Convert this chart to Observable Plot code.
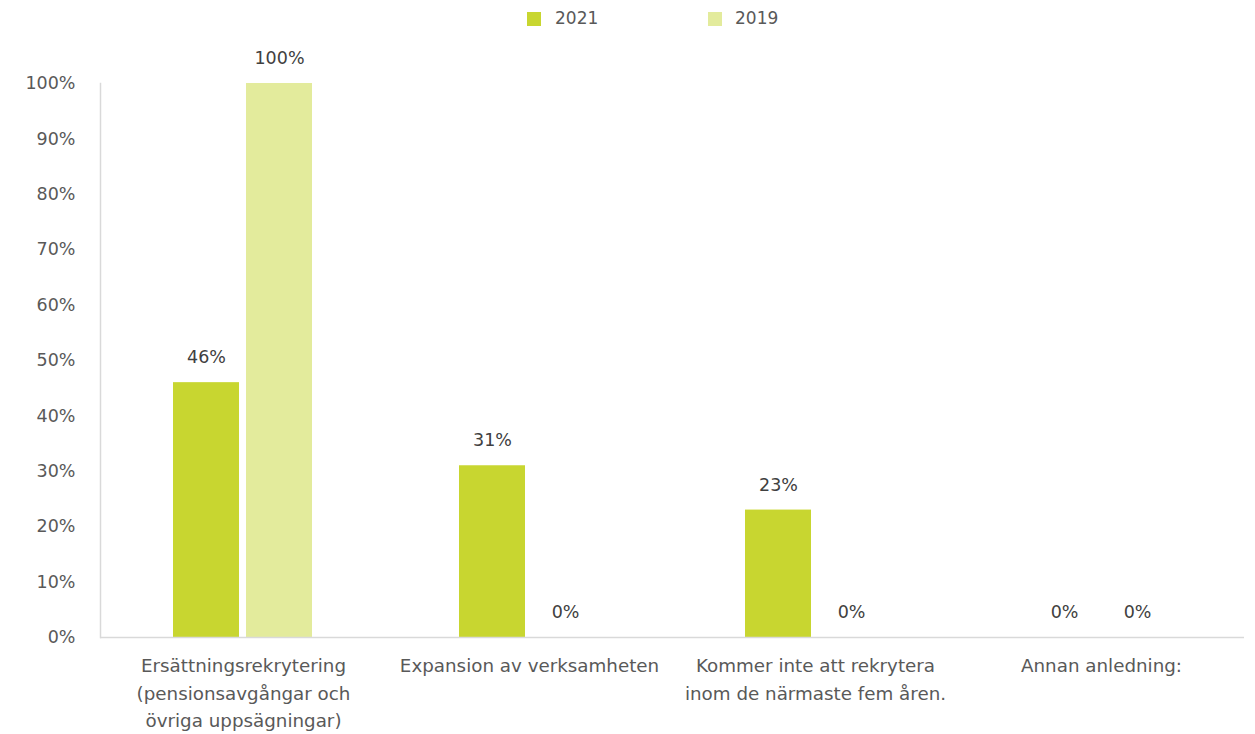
<!DOCTYPE html>
<html><head><meta charset="utf-8">
<script src="https://cdn.jsdelivr.net/npm/d3@7"></script>
<script src="https://cdn.jsdelivr.net/npm/@observablehq/plot@0.6"></script>
<style>
body{margin:0;background:#fff;font-family:"DejaVu Sans",sans-serif;color:#595959}
#legend{position:relative;height:38px;width:1255px}
.sw{position:absolute;top:12px;width:14px;height:14px}
.lt{position:absolute;top:8px;font-size:17px;color:#595959}
</style></head><body>
<div id="legend"></div>
<div id="chart"></div>
<script>
const categories = ["Ersättningsrekrytering\n(pensionsavgångar och\növriga uppsägningar)", "Expansion av verksamheten", "Kommer inte att rekrytera\ninom de närmaste fem åren.", "Annan anledning:"];
const years = ["2021", "2019"];
const values2021 = [0.46, 0.31, 0.23, 0];
const values2019 = [1.00, 0, 0, 0];
const colors = ["#C8D630", "#E3EB9C"];
const yTicks = [0,0.1,0.2,0.3,0.4,0.5,0.6,0.7,0.8,0.9,1.0];

const data = [];
categories.forEach((c,i)=>{
  data.push({cat:c, year:years[0], v:values2021[i]});
  data.push({cat:c, year:years[1], v:values2019[i]});
});

const lg = document.getElementById("legend");
lg.innerHTML = `<div class="sw" style="left:527px;background:${colors[0]}"></div><div class="lt" style="left:555px">${years[0]}</div>
<div class="sw" style="left:708px;background:${colors[1]}"></div><div class="lt" style="left:735px">${years[1]}</div>`;

const fmt = d3.format(".0%");
const plot = Plot.plot({
  width: 1255,
  height: 696,
  marginLeft: 99,
  marginRight: 10,
  marginTop: 45,
  marginBottom: 97,
  style: {fontFamily: '"DejaVu Sans", sans-serif', fontSize: "17px", color: "#595959", background: "#fff"},
  fx: {domain: categories, padding: 0, label: null, axis: null},
  x: {domain: years, paddingInner: 0.095, paddingOuter: 0.98, axis: null},
  y: {domain: [0, 1], label: null, axis: null},
  color: {domain: years, range: colors},
  marks: [
    Plot.barY(data, {fx: "cat", x: "year", y: "v", fill: "year"}),
    Plot.text(data, {fx: "cat", x: "year", y: "v", text: d => fmt(d.v), dy: -25, fill: "#404040", fontSize: 17.5}),
    Plot.ruleY([0], {stroke: "#d9d9d9", strokeWidth: 1.5}),
    Plot.frame({anchor: "left", facet: "super", stroke: "#d9d9d9", strokeWidth: 1.5}),
    Plot.axisY({ticks: yTicks, tickFormat: fmt, tickSize: 0, tickPadding: 25, fill: "#595959", fontSize: 17.5, label: null}),
    Plot.axisFx({anchor: "bottom", tickSize: 0, tickPadding: 15.5, fontSize: 18.3, lineHeight: 1.5, fill: "#595959", label: null})
  ]
});
document.getElementById("chart").appendChild(plot);
</script>
</body></html>
